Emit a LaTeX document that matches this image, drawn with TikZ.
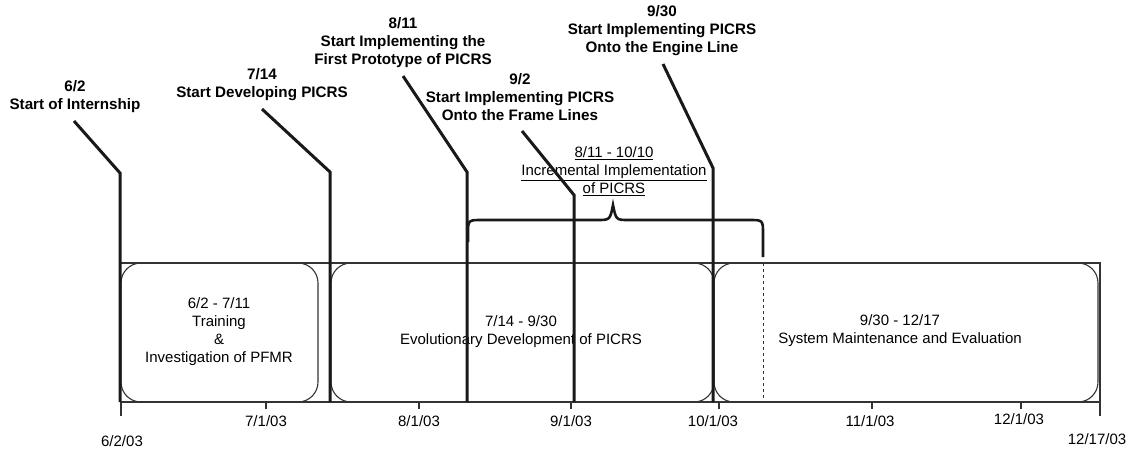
\documentclass[tikz,border=0pt]{standalone}
\usepackage{fontspec}
\setmainfont{Liberation Sans}
\usepackage{tikz}
\usetikzlibrary{positioning}

\tikzset{
	milestone/.style={line width=3pt,black!90},
	frame/.style={line width=1.1pt,black!80},
	phasebox/.style={line width=1.1pt,black!80,rounded corners=20pt},
	bracket/.style={line width=2.6pt,black!90},
}

\begin{document}
\begin{tikzpicture}[x=1pt,y=-1pt]
	\useasboundingbox (0,0) rectangle (1131,453);
	% time axis and frame
	\coordinate (t0) at (121,402);
	\coordinate (tend) at (1100,402);
	\draw[frame] (121,263) -- (1100,263) -- (1100,416);
	\draw[frame] (121,416) -- (t0) -- (tend);
	\begin{scope}[frame]
		\draw (266,402) -- (266,409);
		\draw (419,402) -- (419,409);
		\draw (571,402) -- (571,409);
		\draw (719,402) -- (719,409);
		\draw (872,402) -- (872,409);
		\draw (1021,402) -- (1021,409);
	\end{scope}
	% phases
	\draw[phasebox] (121,263) rectangle (318,402);
	\draw[phasebox] (331,263) rectangle (714,402);
	\draw[phasebox] (714,263) rectangle (1098,402);
	\begin{scope}[every node/.style={align=center,inner sep=0pt,font=\fontsize{15}{18}\selectfont}]
		\node (training) at (219,332) {6/2 - 7/11\\Training\\\&\\Investigation of PFMR};
		\node (evolution) at (521,332) {7/14 - 9/30\\Evolutionary Development of PICRS};
		\node (maintenance) at (900,331) {9/30 - 12/17\\System Maintenance and Evaluation};
		\node (d0) at (122,441) {6/2/03};
		\node (d1) at (266,421) {7/1/03};
		\node (d2) at (419,421) {8/1/03};
		\node (d3) at (571,421) {9/1/03};
		\node (d4) at (713,421) {10/1/03};
		\node (d5) at (870,421) {11/1/03};
		\node (d6) at (1019,419) {12/1/03};
		\node (d7) at (1097,439) {12/17/03};
		\node (incr) at (614,171) {\underline{8/11 - 10/10}\\\underline{Incremental Implementation}\\\underline{of PICRS}};
	\end{scope}
	% milestones
	\begin{scope}[every node/.style={align=center,inner sep=0pt,font=\fontsize{15.2}{18}\selectfont\bfseries}]
		\node (internship) at (75,97) {6/2\\Start of Internship};
		\node (developing) at (262,85) {7/14\\Start Developing PICRS};
		\node (prototype) at (403,43) {8/11\\Start Implementing the\\First Prototype of PICRS};
		\node (framelines) at (520,97) {9/2\\Start Implementing PICRS\\Onto the Frame Lines};
		\node (engineline) at (662,31) {9/30\\Start Implementing PICRS\\Onto the Engine Line};
	\end{scope}
	\coordinate (a1) at (74,121);  \coordinate (k1) at (120,173); \coordinate (b1) at (120,402);
	\coordinate (a2) at (262,109); \coordinate (k2) at (330,172); \coordinate (b2) at (330,402);
	\coordinate (a3) at (403,76);  \coordinate (k3) at (467,172); \coordinate (b3) at (467,402);
	\coordinate (a4) at (522,131); \coordinate (k4) at (574,195); \coordinate (b4) at (574,402);
	\coordinate (a5) at (663,64);  \coordinate (k5) at (713,168); \coordinate (b5) at (713,402);
	\draw[milestone] (a1) -- (k1) -- (b1);
	\draw[milestone] (a2) -- (k2) -- (b2);
	\draw[milestone] (a3) -- (k3) -- (b3);
	\draw[milestone] (a4) -- (k4) -- (b4);
	\draw[milestone] (a5) -- (k5) -- (b5);
	% incremental implementation bracket
	\coordinate (bl) at (468,242);
	\coordinate (btip) at (613,205);
	\coordinate (br) at (763,257);
	\draw[bracket] (bl) -- (468,234) .. controls (468,220) .. (482,220) -- (597,220)
		.. controls (610,220) .. (btip) .. controls (616,220) .. (629,220) -- (749,220)
		.. controls (763,220) .. (763,234) -- (br);
	\draw[frame,dashed,line width=1pt] (763,263) -- (763,402);
\end{tikzpicture}
\end{document}
